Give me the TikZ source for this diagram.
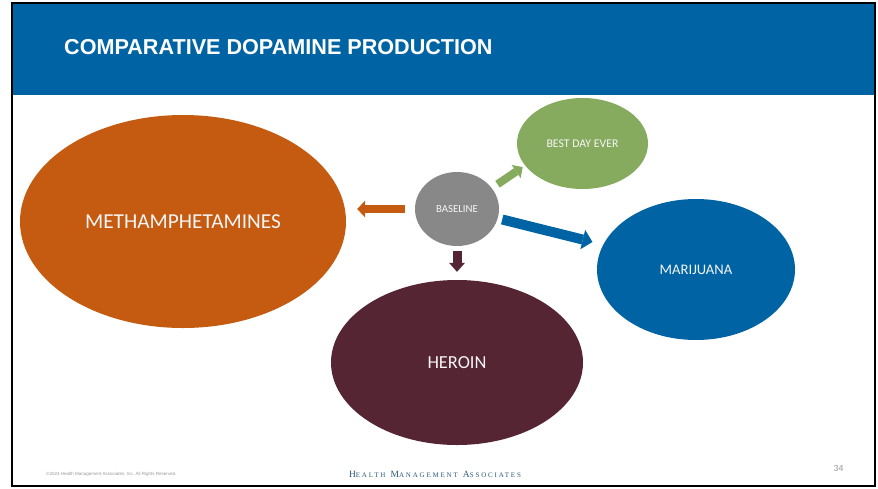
\documentclass[tikz,border=0pt]{standalone}
\usepackage{fontspec}
\setmainfont{Carlito}
\newfontfamily\arialfont{Liberation Sans}
\newfontfamily\hmafont[LetterSpace=26]{Liberation Serif}
\usetikzlibrary{arrows.meta,shapes.geometric}
\definecolor{hmablue}{RGB}{0,100,164}
\definecolor{methorange}{RGB}{197,90,17}
\definecolor{bestgreen}{RGB}{134,171,94}
\definecolor{basegray}{RGB}{136,136,136}
\definecolor{heroinred}{RGB}{85,37,52}
\definecolor{logoblue}{RGB}{43,88,120}
\definecolor{footgray}{RGB}{150,150,150}
\definecolor{textwhite}{RGB}{245,245,245}
\begin{document}
\begin{tikzpicture}[x=1pt,y=-1pt,
  blob/.style={ellipse, inner sep=0pt, draw=none, text=textwhite},
  blockarrow/.style n args={3}{line width=#1,
     -{Triangle[width=#2 0 0,length=#3 0 0,line width=0pt 0 0]}},
  plain/.style={inner sep=0pt}]
\useasboundingbox (0,0) rectangle (878,488);
\fill[hmablue] (12,3) rectangle (874,95);
\draw[line width=2pt] (12,3) rectangle (874.5,485.5);
\node[plain, anchor=west, text=white, font=\arialfont\bfseries\fontsize{21.6}{24}\selectfont] (title) at (64,47.5) {COMPARATIVE DOPAMINE PRODUCTION};
% ellipses
\node[blob, fill=methorange, minimum width=326pt, minimum height=213pt, font=\fontsize{21.3}{24}\selectfont] (meth) at (183,221.5) {METHAMPHETAMINES};
\node[blob, fill=bestgreen, minimum width=131pt, minimum height=91pt, font=\fontsize{11.8}{13}\selectfont] (best) at (582.5,143.5) {BEST DAY EVER};
\node[blob, fill=basegray, minimum width=84pt, minimum height=74pt, font=\fontsize{10.8}{12}\selectfont] (base) at (457,209) {BASELINE};
\node[blob, fill=hmablue, minimum width=198pt, minimum height=141pt, font=\fontsize{14.6}{16}\selectfont] (mari) at (696,269.5) {MARIJUANA};
\node[blob, fill=heroinred, minimum width=252pt, minimum height=165pt, font=\fontsize{18.4}{20}\selectfont] (heroin) at (457,362.5) {HEROIN};
% arrows
\draw[blockarrow={7.5pt}{17pt}{8pt}, methorange, shorten <=10pt, shorten >=11pt] (base.west) -- (base.west -| meth.east);
\draw[blockarrow={9pt}{16pt}{9pt}, heroinred, shorten <=5pt, shorten >=8pt] (base.south) -- (base.south |- heroin.north);
\draw[blockarrow={8pt}{16pt}{8pt}, bestgreen, shorten <=6.8pt, shorten >=2.7pt] (base.31.8) -- (best.201.1);
\draw[blockarrow={10pt}{20pt}{10pt}, hmablue, shorten <=4.5pt, shorten >=11pt] (base.347) -- (mari.165);
% footer
\node[plain, anchor=west, text=footgray, font=\arialfont\fontsize{4.5}{5}\selectfont] (copy) at (46,474) {©2024 Health Management Associates, Inc. All Rights Reserved.};
\node[plain, text=logoblue] (logo) at (435,474.5) {\hmafont{\fontsize{9.5}{10}\selectfont H}{\fontsize{7}{8}\selectfont EALTH} {\fontsize{9.5}{10}\selectfont M}{\fontsize{7}{8}\selectfont ANAGEMENT} {\fontsize{9.5}{10}\selectfont A}{\fontsize{7}{8}\selectfont SSOCIATES}};
\node[plain, text=footgray, font=\fontsize{9.5}{11}\selectfont] (page) at (838.5,468) {34};
\end{tikzpicture}
\end{document}
